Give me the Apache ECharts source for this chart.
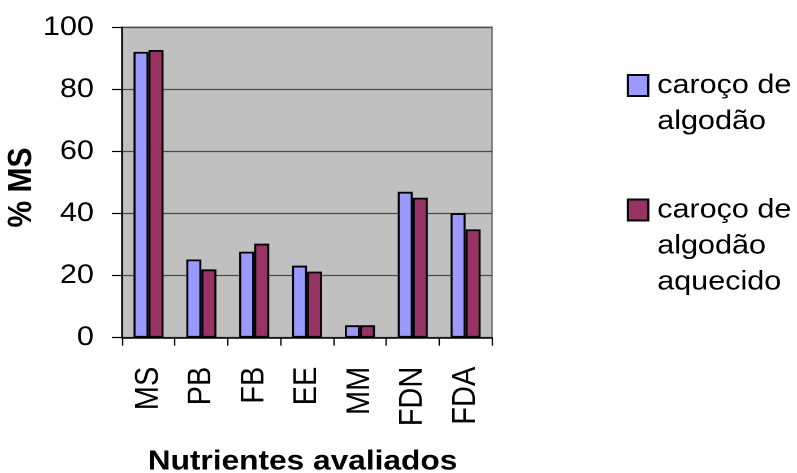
<!DOCTYPE html>
<html>
<head>
<meta charset="utf-8">
<script src="https://cdn.jsdelivr.net/npm/echarts@6/dist/echarts.min.js"></script>
<style>
  html, body { margin: 0; padding: 0; background: #ffffff; overflow: hidden; }
  /* the chart is laid out narrower and widened horizontally, giving the wide lettering */
  #chart { width: 705px; height: 473px; transform: scaleX(1.1305); transform-origin: 0 0; }
</style>
</head>
<body>
<div id="chart"></div>
<script>
// Nutrients evaluated (% of dry matter)
const categories = ['MS', 'PB', 'FB', 'EE', 'MM', 'FDN', 'FDA'];
const seriesNames = ['caroço de algodão', 'caroço de algodão aquecido'];
const legendLines = [['caroço de', 'algodão'], ['caroço de', 'algodão', 'aquecido']];
const carocoAlgodao = [92.1, 25.2, 27.7, 23.2, 4.0, 47.0, 40.1];
const carocoAquecido = [92.7, 22.0, 30.3, 21.3, 4.0, 45.1, 34.9];
const yMin = 0, yMax = 100, yStep = 20;

const FONT = '"Liberation Sans", Arial, sans-serif';
const LINE = 36;

const chart = echarts.init(document.getElementById('chart'), null, { renderer: 'canvas', devicePixelRatio: 2 });

// Legend text is centred on its swatch; leading blank lines put the first
// line level with the swatch and let the rest hang below it.
function legendText(index) {
  const lines = legendLines[index];
  return new Array(lines.length - 1).fill('').concat(lines).join('\n');
}

function legendFor(index, top) {
  return {
    show: true,
    orient: 'vertical',
    left: 554.4,
    top: top,
    padding: 0,
    itemWidth: 18,
    itemHeight: 21,
    data: [{ name: seriesNames[index], icon: 'rect' }],
    formatter: () => legendText(index),
    textStyle: {
      fontFamily: FONT,
      fontSize: 27,
      color: '#000',
      lineHeight: LINE,
      padding: [0, 0, 0, 3]
    }
  };
}

chart.setOption({
  animation: false,
  backgroundColor: '#ffffff',
  textStyle: { fontFamily: FONT },
  grid: {
    left: 108, top: 27.3, width: 327.2, height: 310.4,
    show: true, backgroundColor: '#c0c0c0', borderColor: '#808080', borderWidth: 1.5,
    containLabel: false,
    outerBoundsMode: 'none'
  },
  legend: [legendFor(0, 31.5), legendFor(1, 120)],
  xAxis: {
    type: 'category',
    data: categories,
    name: 'Nutrientes avaliados',
    nameLocation: 'middle',
    nameGap: 110,
    nameTextStyle: { fontFamily: FONT, fontSize: 28, fontWeight: 'bold', color: '#000', padding: [0, 8, 0, 0] },
    axisLine: { show: true, lineStyle: { color: '#000', width: 1.5 } },
    axisTick: { show: true, length: 8, alignWithLabel: false, lineStyle: { color: '#000', width: 1.2 } },
    axisLabel: { interval: 0, rotate: 90, margin: 29, fontFamily: FONT, fontSize: 29, color: '#000' },
    splitLine: { show: false }
  },
  yAxis: {
    type: 'value',
    min: yMin, max: yMax, interval: yStep,
    name: '% MS',
    nameLocation: 'middle',
    nameGap: 55,
    nameTextStyle: { fontFamily: FONT, fontSize: 30, fontWeight: 'bold', color: '#000', padding: [0, 10, 0, 0] },
    axisLine: { show: true, lineStyle: { color: '#000', width: 1.5 } },
    axisTick: { show: true, length: 9, lineStyle: { color: '#000', width: 1.2 } },
    axisLabel: { margin: 25, fontFamily: FONT, fontSize: 27, color: '#000' },
    splitLine: { show: true, lineStyle: { color: '#4a4a4a', width: 1.3 } }
  },
  series: [
    {
      name: seriesNames[0], type: 'bar', data: carocoAlgodao,
      barWidth: 13.3, barGap: '0%',
      itemStyle: { color: '#9999ff', borderColor: '#000', borderWidth: 1.8 }
    },
    {
      name: seriesNames[1], type: 'bar', data: carocoAquecido,
      barWidth: 13.3, barGap: '0%',
      itemStyle: { color: '#993366', borderColor: '#000', borderWidth: 1.8 }
    }
  ]
});
</script>
</body>
</html>
